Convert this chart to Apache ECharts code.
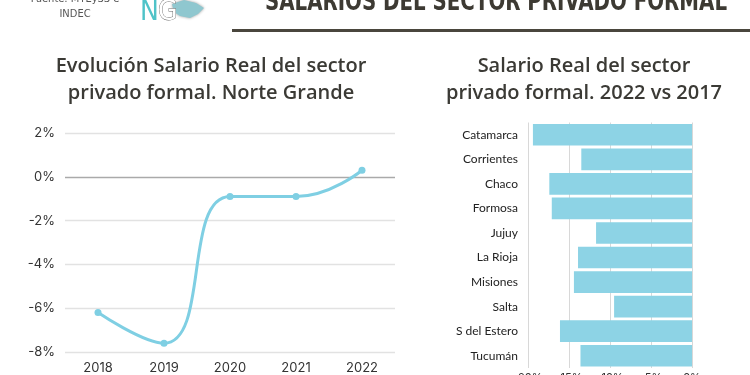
<!DOCTYPE html>
<html>
<head>
<meta charset="utf-8">
<script src="https://cdn.jsdelivr.net/npm/echarts@6/dist/echarts.min.js"></script>
<style>
html,body{margin:0;padding:0;background:#fff;}
#c{width:750px;height:375px;}
</style>
</head>
<body>
<div id="c"></div>
<script>
// Data
const years = ['2018', '2019', '2020', '2021', '2022'];
const salarioNG = [-6.2, -7.6, -0.9, -0.9, 0.3];
const provincias = ['Catamarca', 'Corrientes', 'Chaco', 'Formosa', 'Jujuy', 'La Rioja', 'Misiones', 'Salta', 'S del Estero', 'Tucumán'];
const variacion = [-19.4, -13.5, -17.4, -17.1, -11.7, -13.9, -14.4, -9.5, -16.1, -13.6];

const headerText = 'SALARIOS DEL SECTOR PRIVADO FORMAL';
const headerFont = "bold 26px 'DejaVu Sans Condensed', 'Liberation Sans', sans-serif";
const mctx = document.createElement('canvas').getContext('2d');
mctx.font = headerFont;
const headerScale = 462 / mctx.measureText(headerText).width;

const chart = echarts.init(document.getElementById('c'), null, {renderer: 'canvas'});
const titleStyle = {fontFamily: "'Open Sans', sans-serif", fontWeight: 600, fontSize: 20, color: '#3b3a35', lineHeight: 27};
const labelFont = "'Inter', 'Lato', sans-serif";

chart.setOption({
  backgroundColor: '#ffffff',
  animation: false,
  title: [
    {text: 'Evolución Salario Real del sector\nprivado formal. Norte Grande', left: 206, top: 48, textAlign: 'center', textStyle: titleStyle},
    {text: 'Salario Real del sector\nprivado formal. 2022 vs 2017', left: 579, top: 48, textAlign: 'center', textStyle: titleStyle}
  ],
  graphic: [
    {type: 'text', x: 265, y: 16, scaleX: headerScale, style: {text: headerText, x: 0, y: 0, textAlign: 'left', textVerticalAlign: 'bottom', font: headerFont, fill: '#3d3a33'}},
    {type: 'rect', shape: {x: 232, y: 29, width: 518, height: 3}, style: {fill: '#4a463d'}},
    {type: 'text', style: {text: 'Fuente: MTEySS e\nINDEC', x: 75, y: 7, textAlign: 'center', textVerticalAlign: 'middle', font: "11px 'Liberation Sans Narrow', 'DejaVu Sans Condensed', sans-serif", fill: '#555', lineHeight: 15}},
    {type: 'polygon', shape: {points: [[172, 4], [184, 0], [196, 3], [204, 8], [198, 14], [190, 18], [180, 16], [174, 12]]}, style: {fill: '#8fc7cf', shadowBlur: 3, shadowColor: 'rgba(0,0,0,0.4)'}},
    {type: 'text', style: {text: 'N', x: 140, y: 27, textAlign: 'left', textVerticalAlign: 'bottom', font: "28px 'DejaVu Sans Condensed', sans-serif", fill: '#4fc3c8', shadowBlur: 4, shadowColor: 'rgba(0,0,0,0.5)'}},
    {type: 'text', style: {text: 'G', x: 158, y: 27, textAlign: 'left', textVerticalAlign: 'bottom', font: "28px 'DejaVu Sans Condensed', sans-serif", fill: '#ffffff', stroke: '#6a6a6a', lineWidth: 0.8, shadowBlur: 4, shadowColor: 'rgba(0,0,0,0.6)'}}
  ],
  grid: [
    {left: 65, top: 133, width: 330, height: 219, containLabel: false, outerBoundsMode: 'none'},
    {left: 528, top: 122.5, width: 164, height: 245.5, containLabel: false, outerBoundsMode: 'none'}
  ],
  xAxis: [
    {type: 'category', gridIndex: 0, data: years, boundaryGap: true,
     axisLine: {show: false}, axisTick: {show: false},
     axisLabel: {margin: 10, fontFamily: labelFont, fontSize: 13, color: '#333'}},
    {type: 'value', gridIndex: 1, min: -20, max: 0, interval: 5,
     axisLine: {show: false}, axisTick: {show: false},
     splitLine: {show: true, lineStyle: {color: '#d8d8d8', width: 1}},
     axisLabel: {margin: 4, fontFamily: labelFont, fontSize: 11, color: '#333', formatter: v => v + '%'}}
  ],
  yAxis: [
    {type: 'value', gridIndex: 0, min: -8, max: 2, interval: 2,
     axisLine: {show: false}, axisTick: {show: false},
     splitLine: {show: true, lineStyle: {color: ['#e2e2e2', '#e2e2e2', '#e2e2e2', '#e2e2e2', '#aaaaaa', '#e2e2e2'], width: 1.3}},
     axisLabel: {margin: 10, fontFamily: labelFont, fontSize: 13, color: '#333', formatter: v => v + '%'}},
    {type: 'category', gridIndex: 1, data: provincias, inverse: true,
     axisLine: {show: false}, axisTick: {show: false},
     axisLabel: {margin: 10, fontFamily: "'Lato', sans-serif", fontSize: 12, color: '#222'}}
  ],
  series: [
    {type: 'line', xAxisIndex: 0, yAxisIndex: 0, data: salarioNG, smooth: 0.5,
     symbol: 'circle', symbolSize: 7,
     lineStyle: {color: '#7fcfe3', width: 3},
     itemStyle: {color: '#7fcfe3'}},
    {type: 'bar', xAxisIndex: 1, yAxisIndex: 1, data: variacion, barCategoryGap: '12%',
     itemStyle: {color: '#8dd3e5'}}
  ]
});
</script>
</body>
</html>
